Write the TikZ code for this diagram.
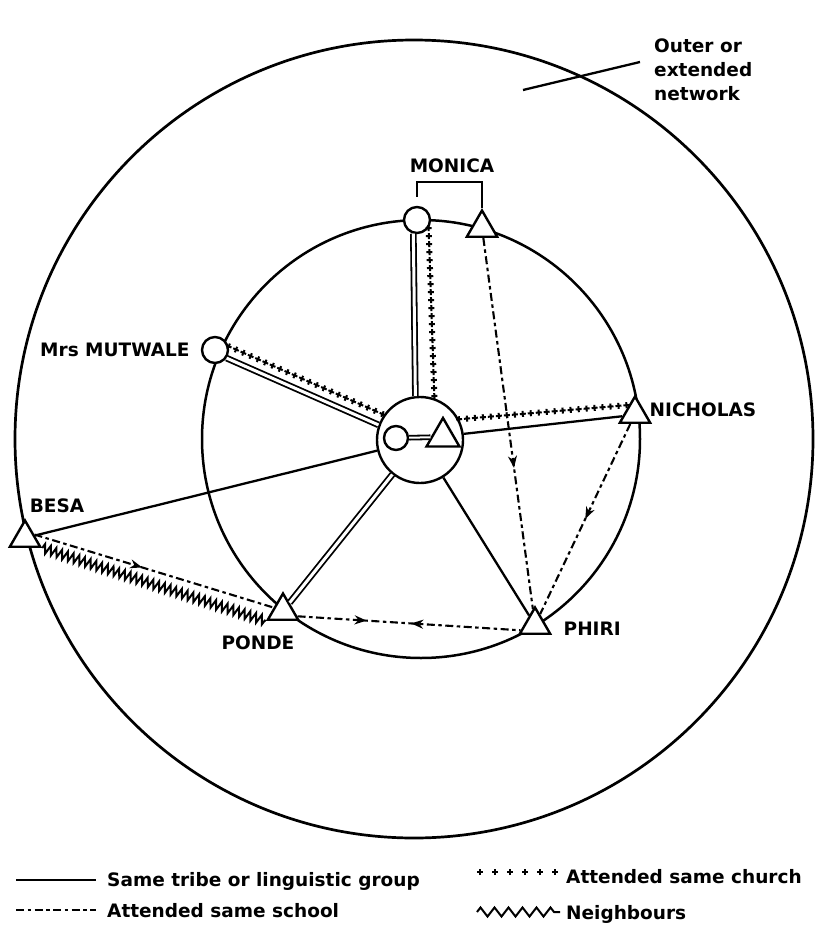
\documentclass[tikz,border=0pt]{standalone}
\usepackage{fontspec}
\setmainfont{DejaVu Sans}
\usetikzlibrary{positioning, shapes.geometric, arrows.meta, decorations.markings, decorations.pathmorphing}

\tikzset{
  person f/.style={circle, draw, fill=white, line width=2.4pt, minimum size=26pt, inner sep=0pt},
  person m/.style={regular polygon, regular polygon sides=3, draw, fill=white, line width=2.4pt, minimum size=35pt, inner sep=0pt},
  namelbl/.style={font=\bfseries\fontsize{18.5}{24}\selectfont, inner sep=1pt},
  tribe/.style={line width=2.3pt},
  dbl/.style={double, double distance=3pt, line width=1.8pt},
  school/.style={line width=2.1pt, dash pattern=on 8pt off 3.5pt on 3.5pt off 3.5pt},
  church/.style={postaction={decorate}, decoration={markings, mark=between positions 0 and 1 step #1 with {\draw[line width=2pt, solid] (-3pt,0pt) -- (3pt,0pt) (0pt,-3pt) -- (0pt,3pt);}}},
  church/.default=8pt,
  neighbour/.style={line width=2pt, decorate, decoration={zigzag, segment length=#1, amplitude=4.5pt}},
  neighbour/.default=6pt,
  midarrow/.style={postaction={decorate}, decoration={markings, mark=at position #1 with {\arrow{Stealth[length=12pt, width=9pt]}}}},
  meetarrows/.style={postaction={decorate}, decoration={markings,
      mark=at position 0.31 with {\arrow{Stealth[length=12pt, width=9pt]}},
      mark=at position 0.51 with {\arrowreversed{Stealth[length=12pt, width=9pt]}}}}
}

\begin{document}
\begin{tikzpicture}[x=1pt, y=-1pt, >=Stealth]
  \useasboundingbox (0,0) rectangle (816,926);

  % 1. outer and inner network circles
  \draw[line width=2.7pt] (414,439) circle [radius=399pt];
  \draw[line width=2.5pt] (421,439) circle [radius=219pt];

  % 2. people
  \node[person f, minimum size=86pt] (ego) at (420,440) {};
  \node[person f, minimum size=24pt] (egof) at (396,438) {};
  \node[person m, minimum size=38pt] (egom) at (443,437) {};
  \draw[dbl, double distance=2pt] (egof) -- (egom);

  \node[person f] (monf) at (417,220) {};
  \node[person m] (monm) at (482,228) {};
  \node[person f] (mutf) at (215,350) {};
  \node[person m] (nich) at (635,414) {};
  \node[person m] (besa) at (25,538) {};
  \node[person m] (ponde) at (283,611) {};
  \node[person m] (phiri) at (535,625) {};

  % 3. names
  \node[namelbl] (monl) at (452,166) {MONICA};
  \node[namelbl, left=10pt of mutf] (mutl) {Mrs MUTWALE};
  \node[namelbl, right=2pt of nich, yshift=4pt] (nichl) {NICHOLAS};
  \node[namelbl] (besal) at (57,506) {BESA};
  \node[namelbl, below=14pt of ponde, xshift=-25pt] (pondel) {PONDE};
  \node[namelbl, right=16pt of phiri, yshift=-4pt] (phiril) {PHIRI};
  \node[namelbl, align=left, anchor=north west] (outl) at (653,38) {Outer or\\extended\\network};
  \coordinate (ptrA) at (640,62);
  \coordinate (ptrB) at (523,90);
  \draw[tribe] (ptrA) -- (ptrB);

  % 4. links
  \draw[tribe] ([yshift=9pt]monf.north) -- ++(0,-15) -| (monm.north);
  \draw[dbl] (monf.255) -- (ego.96);
  \path[church] (monf.-35) -- (ego.71);
  \draw[school, midarrow=0.62] (monm) -- (phiri);
  \path[church] (mutf.15) -- (ego.145);
  \draw[dbl] (mutf.-35) -- (ego.160);
  \path[church] (ego.28) -- (nich.125);
  \draw[tribe] (ego.8) -- (nich.190);
  \draw[tribe] (ego) -- (phiri);
  \draw[school, midarrow=0.5] (nich) -- (phiri);
  \draw[dbl] (ego) -- (ponde);
  \draw[tribe] (besa) -- (ego);
  \draw[school, midarrow=0.45] (besa.20) -- (ponde.160);
  \draw[neighbour] (besa.corner 3) -- (ponde.corner 2);
  \draw[school, meetarrows] (ponde.-20) -- (phiri.200);

  % 5. key
  \draw[tribe] (16,880) -- (96,880);
  \node[namelbl, anchor=base west] (k1) at (106,886) {Same tribe or linguistic group};
  \draw[school] (16,910) -- (96,910);
  \node[namelbl, anchor=base west] (k2) at (106,917) {Attended same school};
  \path[church=15pt] (480,872) -- (557,872);
  \node[namelbl, anchor=base west] (k3) at (565,883) {Attended same church};
  \draw[neighbour=14pt] (477,912) -- (560,912);
  \node[namelbl, anchor=base west] (k4) at (565,919) {Neighbours};
\end{tikzpicture}
\end{document}
